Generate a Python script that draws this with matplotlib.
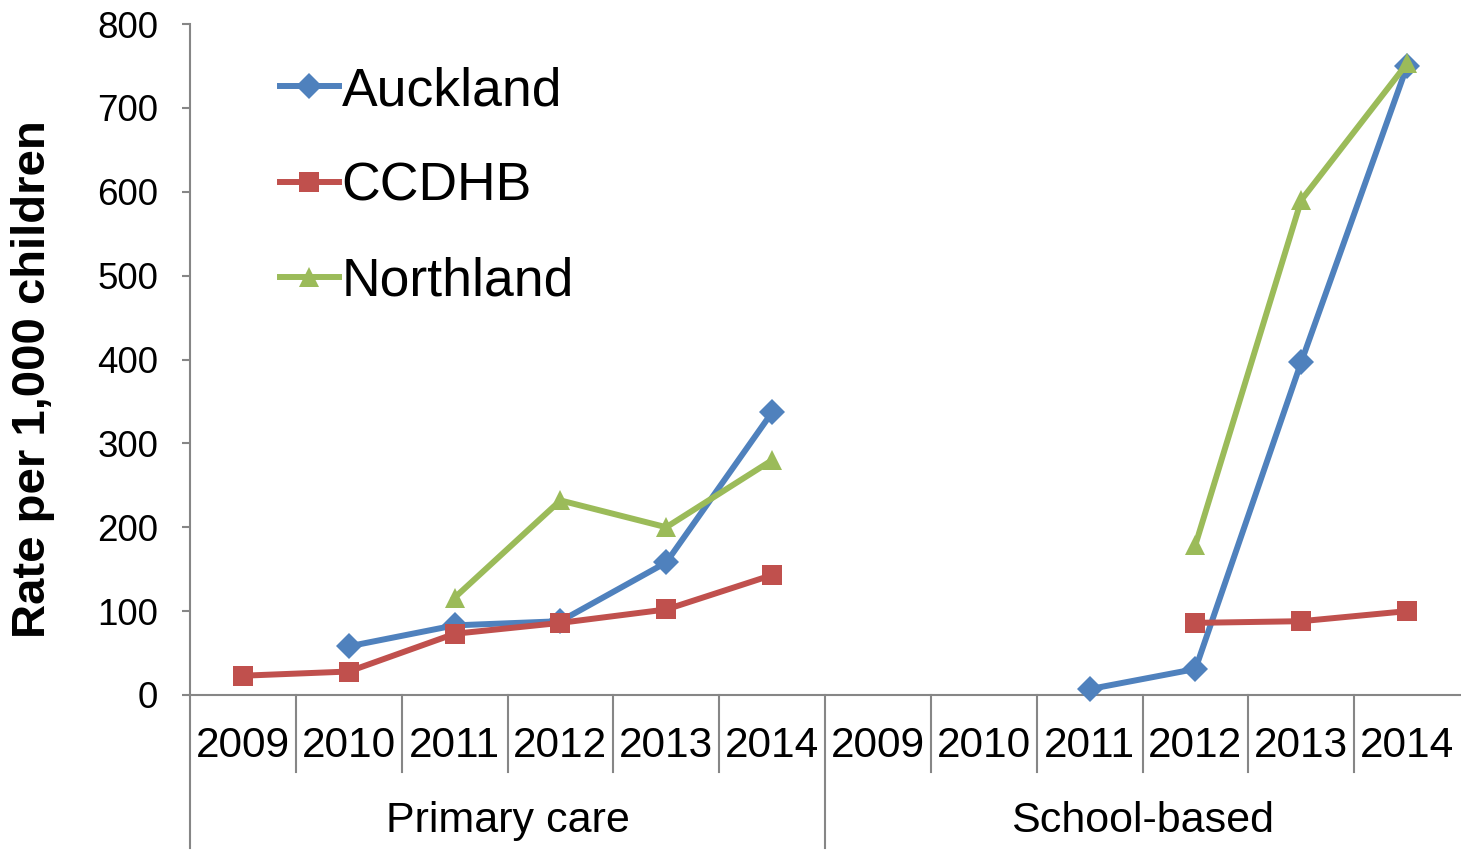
#!/usr/bin/env python3
"""Rate per 1,000 children by setting and region, line chart with grouped year axis."""

import matplotlib
matplotlib.use("Agg")
import matplotlib.pyplot as plt
import numpy as np
from matplotlib.lines import Line2D

years = ["2009", "2010", "2011", "2012", "2013", "2014"]
groups = ["Primary care", "School-based"]

auckland = [None, 58, 83, 88, 158, 337, None, None, 7, 31, 397, 750]
ccdhb = [23, 28, 73, 86, 102, 143, None, None, None, 86, 88, 100]
northland = [None, None, 116, 232, 200, 280, None, None, None, 179, 590, 753]

series = [
    ("Auckland", auckland, "#4F81BD", "D", 13),
    ("CCDHB", ccdhb, "#C0504D", "s", 14),
    ("Northland", northland, "#9BBB59", "^", 15),
]

W, H = 1461, 851
fig = plt.figure(figsize=(W / 100, H / 100), dpi=100)
plt.rcParams["font.family"] = ["Liberation Sans", "DejaVu Sans"]

left, right, bottom, top = 190, 1460, 695, 24
ax = fig.add_axes([left / W, 1 - bottom / H, (right - left) / W, (bottom - top) / H])

n = len(years) * len(groups)
x = np.arange(n)
for name, vals, color, marker, ms in series:
    y = np.array([np.nan if v is None else v for v in vals], dtype=float)
    ax.plot(x, y, color=color, lw=4.3, marker=marker, markersize=ms,
            markeredgewidth=0, label=name, clip_on=False, zorder=3)

ax.set_xlim(-0.5, n - 0.5)
ax.set_ylim(0, 800)
ax.set_yticks(range(0, 801, 100))
ax.set_xticks([])
axis_gray = "#868686"
for side in ("top", "right"):
    ax.spines[side].set_visible(False)
for side in ("left", "bottom"):
    ax.spines[side].set_color(axis_gray)
    ax.spines[side].set_linewidth(1.5)
ax.tick_params(axis="y", length=6, width=1.5, color=axis_gray,
               labelsize=26.5, pad=17)

# multi-level category axis
ax_h = bottom - top
trans = ax.get_xaxis_transform()
year_y = -(746 - bottom) / ax_h
group_y = -(821 - bottom) / ax_h
year_sep = -(772 - bottom) / ax_h
group_sep = -(848 - bottom) / ax_h
for i in range(n):
    ax.text(i, year_y, years[i % len(years)], transform=trans,
            ha="center", va="center", fontsize=30.5)
for g, label in enumerate(groups):
    ax.text(g * len(years) + (len(years) - 1) / 2, group_y, label,
            transform=trans, ha="center", va="center", fontsize=31)
for i in range(n):
    bound = i - 0.5
    y_end = group_sep if i % len(years) == 0 else year_sep
    ax.add_line(Line2D([bound, bound], [0, y_end], transform=trans,
                       color=axis_gray, lw=1.5, clip_on=False))

fig.text(33 / W, 1 - 379 / H, "Rate per 1,000 children", rotation=90,
         ha="center", va="center", fontsize=34, fontweight="bold")

ax.legend(loc="upper left", bbox_to_anchor=(280 / W, 1 - 66 / H),
          bbox_transform=fig.transFigure, frameon=False, fontsize=38.5,
          handlelength=1.1, handletextpad=0.05, labelspacing=0.85,
          borderpad=0, borderaxespad=0, markerscale=1.0)

fig.savefig("out.png", dpi=100)
